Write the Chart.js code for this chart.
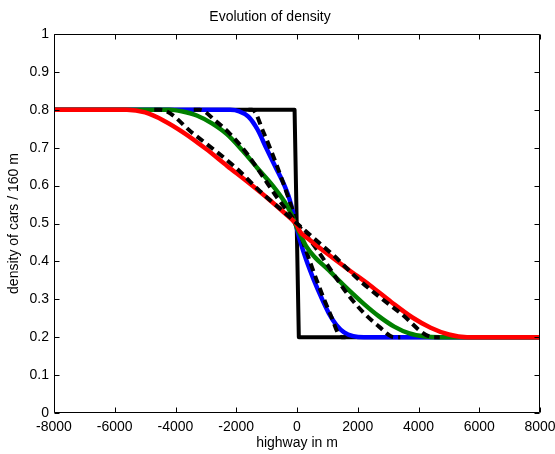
<!DOCTYPE html>
<html>
<head>
<meta charset="utf-8">
<script src="https://cdn.jsdelivr.net/npm/chart.js@4.4.0/dist/chart.umd.min.js"></script>
<style>
  html, body { margin: 0; padding: 0; background: #fff; }
  #wrap { width: 555px; height: 454px; }
</style>
</head>
<body>
<div id="wrap"><canvas id="c" width="555" height="454"></canvas></div>
<script>
// --- data (x in m, density) ---
const xTicks = [-8000, -6000, -4000, -2000, 0, 2000, 4000, 6000, 8000];
const yTicks = [0, 0.1, 0.2, 0.3, 0.4, 0.5, 0.6, 0.7, 0.8, 0.9, 1];

const initX = [-8000, -80, 60, 8000];
const initY = [0.8, 0.8, 0.2, 0.2];

const blueX = [-8000, -2200, -1900, -1600, -1300, -1000, -700, -450, -250, -100, 0, 100, 300, 550, 800, 1050, 1300, 1550, 1850, 2200, 8000];
const blueY = [0.8, 0.8, 0.796, 0.782, 0.748, 0.697, 0.648, 0.607, 0.565, 0.52, 0.485, 0.455, 0.405, 0.352, 0.305, 0.263, 0.232, 0.213, 0.203, 0.2, 0.2];

const greenX = [-8000, -4200, -3800, -3300, -2800, -2300, -1800, -1300, -800, -400, -200, 0, 100, 300, 600, 1000, 1500, 2200, 2700, 3200, 3700, 4200, 4700, 8000];
const greenY = [0.8, 0.8, 0.796, 0.785, 0.764, 0.735, 0.693, 0.646, 0.6, 0.556, 0.527, 0.488, 0.472, 0.44, 0.41, 0.38, 0.34, 0.288, 0.255, 0.228, 0.21, 0.202, 0.2, 0.2];

const redX = [-8000, -5600, -5000, -4400, -3700, -3000, -2300, -1600, -900, -400, -100, 0, 100, 400, 1000, 1700, 2400, 3100, 3800, 4400, 5000, 5600, 8000];
const redY = [0.8, 0.8, 0.793, 0.772, 0.738, 0.697, 0.652, 0.608, 0.562, 0.527, 0.505, 0.495, 0.478, 0.458, 0.42, 0.378, 0.337, 0.293, 0.252, 0.225, 0.207, 0.2, 0.2];

// exact solutions (black dashed), only the fan part; the flat parts sit under the initial step
const exact1X = [-1600, -1470, -1100, -650, -250, 0, 250, 650, 1100, 1470, 1600];
const exact1Y = [0.8, 0.8, 0.74, 0.65, 0.56, 0.5, 0.44, 0.35, 0.26, 0.2, 0.2];

const exact2X = [-3400, -3200, -2700, -2200, -1700, -1200, -650, 0, 650, 1200, 1700, 2200, 2700, 3200, 3400];
const exact2Y = [0.8, 0.8, 0.772, 0.736, 0.69, 0.633, 0.568, 0.5, 0.432, 0.367, 0.31, 0.264, 0.228, 0.2, 0.2];

const exact3X = [-4700, -4500, -3400, -2000, -1230, -470, 0, 470, 1230, 2000, 3400, 4500, 4700];
const exact3Y = [0.8, 0.8, 0.736, 0.646, 0.586, 0.533, 0.5, 0.467, 0.414, 0.354, 0.264, 0.2, 0.2];

const pts = (xs, ys) => xs.map((x, i) => ({ x: x, y: ys[i] }));

// box + inward ticks like matlab axes
const boxPlugin = {
    id: 'box',
    afterDatasetsDraw(chart) {
        const { ctx, chartArea: a, scales } = chart;
        const L = Math.round(a.left) + 0.5, R = Math.round(a.right) - 0.5;
        const T = Math.round(a.top) + 0.5, B = Math.round(a.bottom) - 0.5;
        ctx.save();
        ctx.strokeStyle = '#000';
        ctx.lineWidth = 1;
        ctx.beginPath();
        ctx.rect(L, T, R - L, B - T);
        xTicks.forEach(v => {
            const px = Math.round(scales.x.getPixelForValue(v)) + 0.5;
            ctx.moveTo(px, B); ctx.lineTo(px, B - 5);
            ctx.moveTo(px, T); ctx.lineTo(px, T + 5);
        });
        yTicks.forEach(v => {
            const py = Math.round(scales.y.getPixelForValue(v)) + 0.5;
            ctx.moveTo(L, py); ctx.lineTo(L + 5, py);
            ctx.moveTo(R, py); ctx.lineTo(R - 5, py);
        });
        ctx.stroke();
        ctx.restore();
    }
};

const solid = (data, color, w) => ({ data: data, borderColor: color, borderWidth: w, pointRadius: 0, fill: false, cubicInterpolationMode: 'monotone', borderCapStyle: 'butt', borderJoinStyle: 'round' });
const dashed = data => ({ data: data, borderColor: '#000', borderWidth: 4, borderDash: [8, 5], pointRadius: 0, fill: false, cubicInterpolationMode: 'monotone', borderCapStyle: 'butt', borderJoinStyle: 'round' });

// first dataset is drawn on top
const datasets = [
    dashed(pts(exact3X, exact3Y)),
    solid(pts(redX, redY), '#ff0000', 4.5),
    dashed(pts(exact2X, exact2Y)),
    solid(pts(greenX, greenY), '#008000', 4.5),
    dashed(pts(exact1X, exact1Y)),
    solid(pts(blueX, blueY), '#0000ff', 4.5),
    Object.assign(solid(pts(initX, initY), '#000', 4), { cubicInterpolationMode: 'default', tension: 0 })
];

Chart.defaults.font.family = 'Arial, "Liberation Sans", Helvetica, sans-serif';
Chart.defaults.font.size = 14;
Chart.defaults.color = '#000';

new Chart(document.getElementById('c'), {
    type: 'line',
    data: { datasets: datasets },
    options: {
        responsive: false,
        animation: false,
        events: [],
        layout: { padding: { left: 0, right: 15, top: 0, bottom: 0 } },
        plugins: {
            legend: { display: false },
            tooltip: { enabled: false },
            title: { display: true, text: 'Evolution of density', font: { size: 14, weight: 'normal' }, color: '#000', padding: { top: 9, bottom: 8.2 } }
        },
        scales: {
            x: {
                type: 'linear', min: -8000, max: 8000,
                afterFit: s => { s.height = 41; s.paddingLeft = 0; s.paddingRight = 0; },
                afterBuildTicks: s => { s.ticks = xTicks.map(v => ({ value: v })); },
                grid: { display: false, drawTicks: false },
                border: { display: false },
                ticks: { padding: 6, maxRotation: 0, autoSkip: false, font: { size: 14 }, callback: v => String(v) },
                title: { display: true, text: 'highway in m', font: { size: 14 }, padding: { top: 0, bottom: 2.6 } }
            },
            y: {
                type: 'linear', min: 0, max: 1,
                afterFit: s => { s.width = 54; },
                afterBuildTicks: s => { s.ticks = yTicks.map(v => ({ value: v })); },
                grid: { display: false, drawTicks: false },
                border: { display: false },
                ticks: { padding: 5, autoSkip: false, font: { size: 14 }, callback: v => String(Math.round(v * 10) / 10) },
                title: { display: true, text: 'density of cars / 160 m', font: { size: 14 }, padding: { top: 6, bottom: 0 } }
            }
        }
    },
    plugins: [boxPlugin]
});
</script>
</body>
</html>
